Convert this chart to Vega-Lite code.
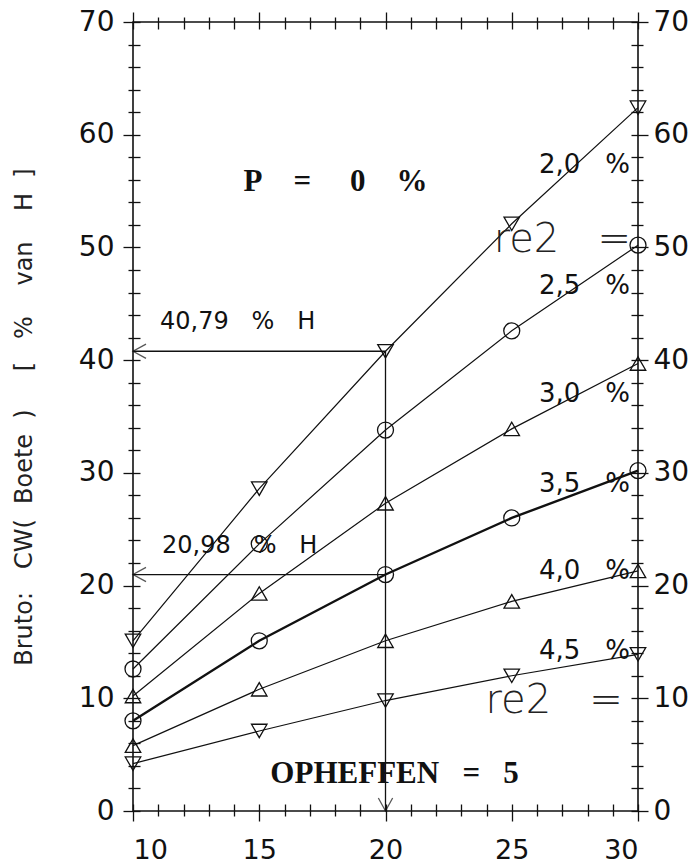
{
  "$schema": "https://vega.github.io/schema/vega-lite/v6.json",
  "width": 505,
  "height": 789,
  "autosize": {"type": "none"},
  "padding": {"left": 133, "top": 22, "right": 60, "bottom": 56},
  "background": "white",
  "config": {
    "view": {"stroke": "#111", "strokeWidth": 1.6},
    "axis": {"grid": false, "domain": false, "labelFont": "DejaVu Sans", "labelColor": "#111", "tickColor": "#111", "tickWidth": 1.3, "titleColor": "#222"}
  },
  "datasets": {
    "series": [
      {"x": 10, "y": 15.1, "rate": "2,0 %"}, {"x": 15, "y": 28.6, "rate": "2,0 %"}, {"x": 20, "y": 40.79, "rate": "2,0 %"}, {"x": 25, "y": 52.1, "rate": "2,0 %"}, {"x": 30, "y": 62.4, "rate": "2,0 %"},
      {"x": 10, "y": 12.6, "rate": "2,5 %"}, {"x": 15, "y": 23.7, "rate": "2,5 %"}, {"x": 20, "y": 33.8, "rate": "2,5 %"}, {"x": 25, "y": 42.6, "rate": "2,5 %"}, {"x": 30, "y": 50.2, "rate": "2,5 %"},
      {"x": 10, "y": 10.2, "rate": "3,0 %"}, {"x": 15, "y": 19.3, "rate": "3,0 %"}, {"x": 20, "y": 27.3, "rate": "3,0 %"}, {"x": 25, "y": 33.9, "rate": "3,0 %"}, {"x": 30, "y": 39.7, "rate": "3,0 %"},
      {"x": 10, "y": 8.0, "rate": "3,5 %"}, {"x": 15, "y": 15.1, "rate": "3,5 %"}, {"x": 20, "y": 20.98, "rate": "3,5 %"}, {"x": 25, "y": 26.0, "rate": "3,5 %"}, {"x": 30, "y": 30.2, "rate": "3,5 %"},
      {"x": 10, "y": 5.8, "rate": "4,0 %"}, {"x": 15, "y": 10.8, "rate": "4,0 %"}, {"x": 20, "y": 15.1, "rate": "4,0 %"}, {"x": 25, "y": 18.6, "rate": "4,0 %"}, {"x": 30, "y": 21.3, "rate": "4,0 %"},
      {"x": 10, "y": 4.2, "rate": "4,5 %"}, {"x": 15, "y": 7.1, "rate": "4,5 %"}, {"x": 20, "y": 9.8, "rate": "4,5 %"}, {"x": 25, "y": 12.0, "rate": "4,5 %"}, {"x": 30, "y": 13.9, "rate": "4,5 %"}
    ],
    "curveLabels": [
      {"x": 29.68, "y": 57.3, "text": "2,0\u00a0\u00a0\u00a0%"},
      {"x": 29.68, "y": 46.6, "text": "2,5\u00a0\u00a0\u00a0%"},
      {"x": 29.68, "y": 37.0, "text": "3,0\u00a0\u00a0\u00a0%"},
      {"x": 29.68, "y": 29.0, "text": "3,5\u00a0\u00a0\u00a0%"},
      {"x": 29.68, "y": 21.3, "text": "4,0\u00a0\u00a0\u00a0%"},
      {"x": 29.68, "y": 14.2, "text": "4,5\u00a0\u00a0\u00a0%"}
    ],
    "notes": [
      {"x": 11.07, "y": 43.35, "text": "40,79\u00a0\u00a0\u00a0%\u00a0\u00a0\u00a0H"},
      {"x": 11.15, "y": 23.5, "text": "20,98\u00a0\u00a0\u00a0%\u00a0\u00a0\u00a0H"}
    ],
    "re2": [
      {"x": 29.72, "y": 49.6, "text": "re2\u00a0\u00a0\u00a0="},
      {"x": 29.4, "y": 8.7, "text": "re2\u00a0\u00a0\u00a0="}
    ],
    "titles": [
      {"x": 18.02, "y": 55.8, "text": "P\u00a0\u00a0\u00a0\u00a0=\u00a0\u00a0\u00a0\u00a0\u00a00\u00a0\u00a0\u00a0\u00a0%"},
      {"x": 20.36, "y": 3.3, "text": "OPHEFFEN\u00a0\u00a0\u00a0=\u00a0\u00a0\u00a05"}
    ],
    "arrows": [
      {"x": 10, "x2": 20, "y": 40.79, "y2": 40.79},
      {"x": 10, "x2": 20, "y": 20.98, "y2": 20.98},
      {"x": 20, "x2": 20, "y": 0, "y2": 40.79}
    ],
    "heads": [
      {"x": 10, "y": 40.79, "dir": "left"},
      {"x": 10, "y": 20.98, "dir": "left"},
      {"x": 20, "y": 0, "dir": "down"}
    ]
  },
  "resolve": {"axis": {"x": "independent", "y": "independent"}, "scale": {"shape": "independent", "size": "independent"}},
  "layer": [
    {
      "data": {"name": "series"},
      "transform": [{"filter": "datum.rate !== '3,5 %'"}],
      "mark": {"type": "line", "color": "#111", "strokeWidth": 1.2},
      "encoding": {
        "x": {"field": "x", "type": "quantitative", "scale": {"domain": [10, 30], "nice": false, "zero": false},
          "axis": {"orient": "bottom", "title": null, "values": [10,11,12,13,14,15,16,17,18,19,20,21,22,23,24,25,26,27,28,29,30],
            "offset": -7, "tickSize": {"condition": {"test": "datum.value % 5 === 0", "value": 17}, "value": 12},
            "labelExpr": "datum.value % 5 === 0 ? datum.label : ''", "labelFontSize": 27, "labelPadding": 16}},
        "y": {"field": "y", "type": "quantitative", "scale": {"domain": [0, 70], "nice": false, "zero": true},
          "axis": {"orient": "left", "values": [0,2,4,6,8,10,12,14,16,18,20,22,24,26,28,30,32,34,36,38,40,42,44,46,48,50,52,54,56,58,60,62,64,66,68,70],
            "offset": -7, "tickSize": {"condition": {"test": "datum.value % 10 === 0", "value": 17}, "value": 12},
            "labelExpr": "datum.value % 10 === 0 ? datum.label : ''", "labelFontSize": 28, "labelPadding": 9,
            "title": "Bruto:\u00a0\u00a0\u00a0CW(\u00a0\u00a0Boete\u00a0\u00a0)\u00a0\u00a0\u00a0\u00a0\u00a0[\u00a0\u00a0\u00a0%\u00a0\u00a0\u00a0\u00a0van\u00a0\u00a0\u00a0\u00a0H\u00a0\u00a0]",
            "titleFont": "DejaVu Sans", "titleFontWeight": "normal", "titleFontSize": 24, "titlePadding": 42}},
        "detail": {"field": "rate"}
      }
    },
    {
      "data": {"name": "series"},
      "transform": [{"filter": "datum.rate === '3,5 %'"}],
      "mark": {"type": "line", "color": "#111", "strokeWidth": 2.4},
      "encoding": {
        "x": {"field": "x", "type": "quantitative",
          "axis": {"orient": "top", "title": null, "values": [10,11,12,13,14,15,16,17,18,19,20,21,22,23,24,25,26,27,28,29,30],
            "offset": -7, "tickSize": {"condition": {"test": "datum.value % 5 === 0", "value": 17}, "value": 12}, "labels": false}},
        "y": {"field": "y", "type": "quantitative",
          "axis": {"orient": "right", "title": null, "values": [0,2,4,6,8,10,12,14,16,18,20,22,24,26,28,30,32,34,36,38,40,42,44,46,48,50,52,54,56,58,60,62,64,66,68,70],
            "offset": -7, "tickSize": {"condition": {"test": "datum.value % 10 === 0", "value": 17}, "value": 12},
            "labelExpr": "datum.value % 10 === 0 ? datum.label : ''", "labelFontSize": 28, "labelPadding": 5}}
      }
    },
    {
      "data": {"name": "titles"},
      "mark": {"type": "text", "font": "Liberation Serif", "fontWeight": "bold", "fontSize": 31, "color": "#111", "baseline": "middle", "align": "center"},
      "encoding": {
        "x": {"field": "x", "type": "quantitative", "axis": null},
        "y": {"field": "y", "type": "quantitative", "axis": null},
        "text": {"field": "text"}
      }
    },
    {
      "data": {"name": "arrows"},
      "mark": {"type": "rule", "color": "#111", "strokeWidth": 1.3},
      "encoding": {
        "x": {"field": "x", "type": "quantitative", "axis": null},
        "x2": {"field": "x2"},
        "y": {"field": "y", "type": "quantitative", "axis": null},
        "y2": {"field": "y2"}
      }
    },
    {
      "data": {"name": "heads"},
      "mark": {"type": "point", "filled": false, "stroke": "#111", "strokeWidth": 1.3, "size": 676},
      "encoding": {
        "x": {"field": "x", "type": "quantitative", "axis": null},
        "y": {"field": "y", "type": "quantitative", "axis": null},
        "shape": {"field": "dir", "type": "nominal", "legend": null,
          "scale": {"domain": ["left", "down"], "range": ["M 1 -0.55 L 0 0 L 1 0.55", "M -0.55 -1 L 0 0 L 0.55 -1"]}}
      }
    },
    {
      "data": {"name": "series"},
      "mark": {"type": "point", "filled": false, "stroke": "#111", "strokeWidth": 1.3, "opacity": 1},
      "encoding": {
        "x": {"field": "x", "type": "quantitative", "axis": null},
        "y": {"field": "y", "type": "quantitative", "axis": null},
        "shape": {"field": "rate", "type": "nominal", "legend": null,
          "scale": {"domain": ["2,0 %", "2,5 %", "3,0 %", "3,5 %", "4,0 %", "4,5 %"],
            "range": ["triangle-down", "circle", "triangle-up", "circle", "triangle-up", "triangle-down"]}},
        "size": {"condition": {"test": "datum.rate === '2,5 %' || datum.rate === '3,5 %'", "value": 256}, "value": 240}
      }
    },
    {
      "data": {"name": "curveLabels"},
      "mark": {"type": "text", "font": "DejaVu Sans", "fontSize": 26, "color": "#111", "align": "right", "baseline": "middle"},
      "encoding": {
        "x": {"field": "x", "type": "quantitative", "axis": null},
        "y": {"field": "y", "type": "quantitative", "axis": null},
        "text": {"field": "text"}
      }
    },
    {
      "data": {"name": "notes"},
      "mark": {"type": "text", "font": "DejaVu Sans", "fontSize": 24, "color": "#111", "align": "left", "baseline": "middle"},
      "encoding": {
        "x": {"field": "x", "type": "quantitative", "axis": null},
        "y": {"field": "y", "type": "quantitative", "axis": null},
        "text": {"field": "text"}
      }
    },
    {
      "data": {"name": "re2"},
      "mark": {"type": "text", "font": "DejaVu Sans", "fontWeight": 200, "fontSize": 40, "color": "#222", "align": "right", "baseline": "alphabetic"},
      "encoding": {
        "x": {"field": "x", "type": "quantitative", "axis": null},
        "y": {"field": "y", "type": "quantitative", "axis": null},
        "text": {"field": "text"}
      }
    }
  ]
}
